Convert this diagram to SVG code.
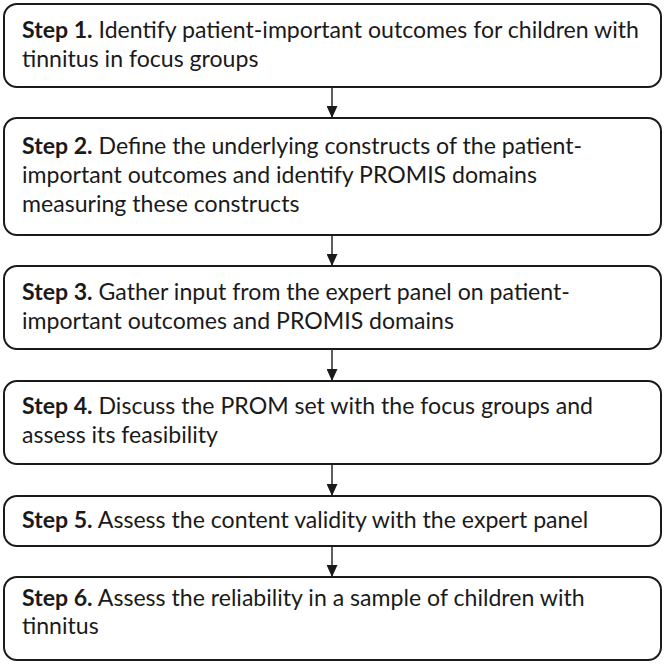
<svg xmlns="http://www.w3.org/2000/svg" width="666" height="666" viewBox="0 0 666 666">
<defs>
<style>
.box{fill:#fff;stroke:#1a1a1a;stroke-width:2}
.t{font-family:Lato,"Open Sans","Liberation Sans",sans-serif;font-size:23.1px;fill:#1a1a1a}
.b{font-weight:bold}
.c{stroke:#1a1a1a;stroke-width:1.4;fill:none}
</style>
<marker id="ah" viewBox="0 0 12 11" refX="12" refY="5.5" markerWidth="12" markerHeight="11" markerUnits="userSpaceOnUse" orient="auto">
<path d="M0,0 L12,5.5 L0,11 z" fill="#1a1a1a"/>
</marker>
</defs>
<rect width="666" height="666" fill="#fff"/>
<g id="connectors">
<line class="c" x1="332" y1="87" x2="332" y2="118" marker-end="url(#ah)"/>
<line class="c" x1="332" y1="235" x2="332" y2="266" marker-end="url(#ah)"/>
<line class="c" x1="332" y1="349" x2="332" y2="381" marker-end="url(#ah)"/>
<line class="c" x1="332" y1="464" x2="332" y2="496" marker-end="url(#ah)"/>
<line class="c" x1="332" y1="546" x2="332" y2="577" marker-end="url(#ah)"/>
</g>
<g id="step1">
<rect class="box" x="4" y="4" width="657" height="83" rx="13"/>
<text class="t" x="22" y="38"><tspan class="b">Step 1.</tspan> Identify patient-important outcomes for children with</text>
<text class="t" x="22" y="67">tinnitus in focus groups</text>
</g>
<g id="step2">
<rect class="box" x="4" y="118" width="657" height="117" rx="13"/>
<text class="t" x="22" y="154"><tspan class="b">Step 2.</tspan> Define the underlying constructs of the patient-</text>
<text class="t" x="22" y="183">important outcomes and identify PROMIS domains</text>
<text class="t" x="22" y="212">measuring these constructs</text>
</g>
<g id="step3">
<rect class="box" x="4" y="266" width="657" height="83" rx="13"/>
<text class="t" x="22" y="300"><tspan class="b">Step 3.</tspan> Gather input from the expert panel on patient-</text>
<text class="t" x="22" y="329">important outcomes and PROMIS domains</text>
</g>
<g id="step4">
<rect class="box" x="4" y="381" width="657" height="83" rx="13"/>
<text class="t" x="22" y="414"><tspan class="b">Step 4.</tspan> Discuss the PROM set with the focus groups and</text>
<text class="t" x="22" y="443">assess its feasibility</text>
</g>
<g id="step5">
<rect class="box" x="4" y="496" width="657" height="50" rx="13"/>
<text class="t" x="22" y="528"><tspan class="b">Step 5.</tspan> Assess the content validity with the expert panel</text>
</g>
<g id="step6">
<rect class="box" x="4" y="577" width="657" height="83" rx="13"/>
<text class="t" x="22" y="606"><tspan class="b">Step 6.</tspan> Assess the reliability in a sample of children with</text>
<text class="t" x="22" y="634">tinnitus</text>
</g>
</svg>
